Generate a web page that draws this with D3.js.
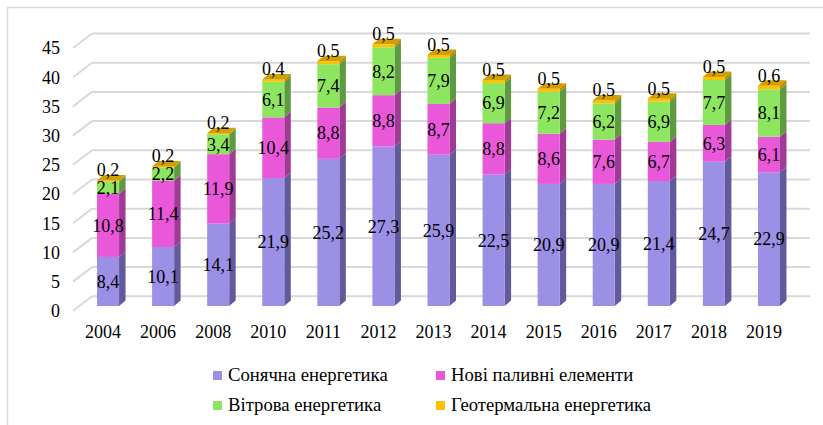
<!DOCTYPE html>
<html>
<head>
<meta charset="utf-8">
<script src="https://cdn.jsdelivr.net/npm/d3@7"></script>
<style>
  body { margin: 0; background: #fff; }
</style>
</head>
<body>
<svg id="chart" width="823" height="425"></svg>
<script>
// data
const years = ['2004', '2006', '2008', '2010', '2011', '2012', '2013', '2014', '2015', '2016', '2017', '2018', '2019'];
const solar = [8.4, 10.1, 14.1, 21.9, 25.2, 27.3, 25.9, 22.5, 20.9, 20.9, 21.4, 24.7, 22.9];
const fuel = [10.8, 11.4, 11.9, 10.4, 8.8, 8.8, 8.7, 8.8, 8.6, 7.6, 6.7, 6.3, 6.1];
const wind = [2.1, 2.2, 3.4, 6.1, 7.4, 8.2, 7.9, 6.9, 7.2, 6.2, 6.9, 7.7, 8.1];
const geo = [0.2, 0.2, 0.2, 0.4, 0.5, 0.5, 0.5, 0.5, 0.5, 0.5, 0.5, 0.5, 0.6];
const seriesNames = ['Сонячна енергетика', 'Нові паливні елементи', 'Вітрова енергетика', 'Геотермальна енергетика'];
const yTicks = [0, 5, 10, 15, 20, 25, 30, 35, 40, 45];

const colors = [
  { front: '#9b8fe6', side: '#635a9c' },
  { front: '#ea58da', side: '#a03b95' },
  { front: '#8ee660', side: '#5f9a40' },
  { front: '#ffc000', side: '#b98a00', top: '#d29f00' }
];
const FONT = '"Liberation Serif"';

const svg = d3.select('#chart');

// frame (left + top only)
svg.append('path')
  .attr('d', 'M7.5,425 V7.5 H823')
  .attr('fill', 'none')
  .attr('stroke', '#d9d9d9')
  .attr('stroke-width', 1.5);

const table = years.map((yr, i) => ({ year: yr, solar: solar[i], fuel: fuel[i], wind: wind[i], geo: geo[i] }));
const keys = ['solar', 'fuel', 'wind', 'geo'];
const stack = d3.stack().keys(keys)(table);

// bar scale (bars stand a little inside the floor)
const y = d3.scaleLinear().domain([0, 45]).range([306, 306 - 262.8]);
const x = d3.scaleBand().domain(years).range([80.5, 796.5]).paddingInner(0.6).paddingOuter(0.3);

// walls: front edge and back wall
const frontX = 73, wallDx = 19, wallDy = -14.5, frontOff = 4.8, backRight = 810;

function label(x, y, txt, size = 18) {
  return svg.append('text')
    .attr('x', x).attr('y', y)
    .style('font-family', FONT)
    .attr('font-size', size)
    .attr('fill', '#000')
    .text(txt);
}

const grid = svg.append('g');
yTicks.forEach(t => {
  const yf = y(t) + frontOff;
  const yb = yf + wallDy;
  grid.append('line')
    .attr('x1', frontX).attr('y1', yf)
    .attr('x2', frontX + wallDx).attr('y2', yb)
    .attr('stroke', '#d9d9d9').attr('stroke-width', 2);
  grid.append('line')
    .attr('x1', frontX + wallDx).attr('y1', yb)
    .attr('x2', backRight).attr('y2', yb)
    .attr('stroke', '#d9d9d9').attr('stroke-width', 2);
  label(60, yf, t).attr('dy', '0.35em').attr('text-anchor', 'end');
});

// 3d bars
const dx = 6.5, dy = -5.5;
const w = x.bandwidth();
const bars = svg.append('g');
stack.forEach((layer, si) => {
  layer.forEach((d, i) => {
    const x0 = x(years[i]);
    const yTop = y(d[1]), yBot = y(d[0]);
    bars.append('path')
      .attr('d', `M${x0 + w},${yBot} L${x0 + w + dx},${yBot + dy} L${x0 + w + dx},${yTop + dy} L${x0 + w},${yTop} Z`)
      .attr('fill', colors[si].side);
    bars.append('rect')
      .attr('x', x0).attr('y', yTop)
      .attr('width', w).attr('height', yBot - yTop)
      .attr('fill', colors[si].front);
    if (si === stack.length - 1) {
      bars.append('path')
        .attr('d', `M${x0},${yTop} L${x0 + dx},${yTop + dy} L${x0 + w + dx},${yTop + dy} L${x0 + w},${yTop} Z`)
        .attr('fill', colors[si].top);
    }
  });
});

// data labels
const fmt = v => String(v).replace('.', ',');
stack.forEach((layer, si) => {
  layer.forEach((d, i) => {
    const cx = x(years[i]) + w / 2;
    const last = si === stack.length - 1;
    label(cx, last ? y(d[1]) - 4 : (y(d[0]) + y(d[1])) / 2, fmt(+(d[1] - d[0]).toFixed(1)))
      .attr('dy', last ? 0 : '0.35em')
      .attr('text-anchor', 'middle');
  });
});

// category labels
years.forEach(yr => {
  label(x(yr) + w / 2 - 5, 338, yr).attr('text-anchor', 'middle');
});

// legend
const legendPos = [[213, 371], [436, 371], [213, 401], [436, 401]];
seriesNames.forEach((name, i) => {
  const [lx, ly] = legendPos[i];
  svg.append('rect')
    .attr('x', lx).attr('y', ly)
    .attr('width', 9).attr('height', 9)
    .attr('fill', colors[i].front);
  label(lx + 15, ly + 10, name, 18.7);
});
</script>
</body>
</html>
